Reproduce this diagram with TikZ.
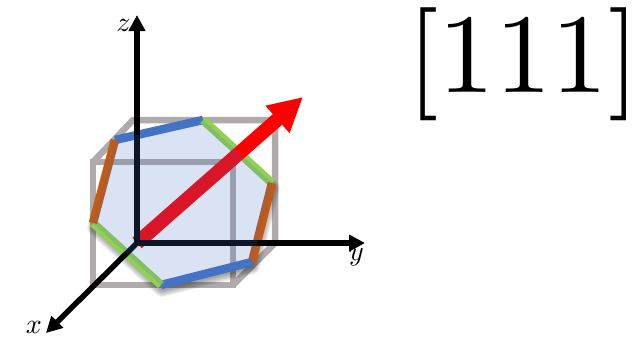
\documentclass[tikz,border=0pt]{standalone}
\usepackage{amsmath,amssymb}
\usepackage{xcolor}
\usetikzlibrary{arrows.meta,calc}
\definecolor{cubecol}{HTML}{AFABAB}
\definecolor{bluecol}{HTML}{4472C4}
\definecolor{greencol}{HTML}{92D050}
\definecolor{orangecol}{HTML}{C55A11}
\definecolor{redcol}{HTML}{FF0000}
\font\labfont=cmmi10 at 28pt
\font\dirfont=cmr10 at 113pt

\begin{document}
\begin{tikzpicture}[x=1pt,y=-1pt,
  cube/.style={draw=cubecol,line width=6.5pt,line join=miter},
  edge/.style={line width=8.5pt},
  axis/.style={draw=black,line width=5.5pt,-{Triangle[length=16pt,width=16pt]}},
  lab/.style={inner sep=0pt,font=\labfont},
]
\useasboundingbox (0,0) rectangle (641,341);

% corners of the cube
\coordinate (f1) at (93,162);
\coordinate (f2) at (233,162);
\coordinate (f3) at (233,285);
\coordinate (f4) at (93,285);
\coordinate (b1) at (133,120);
\coordinate (b2) at (275,120);
\coordinate (b3) at (275,243);
% corners of the hexagon
\coordinate (h1) at (115,140);
\coordinate (h2) at (203,120);
\coordinate (h3) at (272,183);
\coordinate (h4) at (252,262);
\coordinate (h5) at (161,285);
\coordinate (h6) at (93,223);
% axes
\coordinate (o) at (137,243);
\coordinate (xtip) at (46,333);
\coordinate (ytip) at (365,243);
\coordinate (ztip) at (137,15);
\coordinate (rtip) at (303,97);

\draw[cube] (f1) -- (f2) -- (f3) -- (f4) -- cycle;
\draw[cube] (f1) -- (b1) -- (b2) -- (b3) -- (f3);
\draw[cube] (f2) -- (b2);

% soft shadow, outside of the hexagon only
\begin{scope}[even odd rule]
  \clip (0,0) rectangle (641,341)
    (h1) -- (h2) -- (h3) -- (h4) -- (h5) -- (h6) -- cycle;
  \foreach \w in {2,4,...,14}
    \draw[black,opacity=.06,line width=\w pt,line join=round]
      ($(h1)+(1,5)$) -- ($(h2)+(1,5)$) -- ($(h3)+(1,5)$) -- ($(h4)+(1,5)$)
      -- ($(h5)+(1,5)$) -- ($(h6)+(1,5)$) -- cycle;
\end{scope}

\draw[edge,bluecol] (h1) -- (h2);
\draw[edge,greencol] (h2) -- (h3);
\draw[edge,orangecol] (h3) -- (h4);
\draw[edge,bluecol] (h4) -- (h5);
\draw[edge,greencol] (h5) -- (h6);
\draw[edge,orangecol] (h6) -- (h1);

\draw[redcol,line width=14pt,-{Triangle[length=34pt,width=34pt]}] (o) -- (rtip);
\draw[axis] (o) -- (xtip);
\draw[axis] (o) -- (ytip);
\draw[axis] ($(o)+(0,2.7)$) -- (ztip);

% everything below the hexagon is tinted by it
\fill[bluecol,opacity=.2] (h1) -- (h2) -- (h3) -- (h4) -- (h5) -- (h6) -- cycle;

\node[lab] (zl) at (123,25) {z};
\node[lab] (yl) at (356,257) {y};
\node[lab] (xl) at (34,327) {x};
\node[inner sep=0pt,anchor=base,font=\dirfont] (dir) at (523.5,92) {[111]};
\end{tikzpicture}
\end{document}
